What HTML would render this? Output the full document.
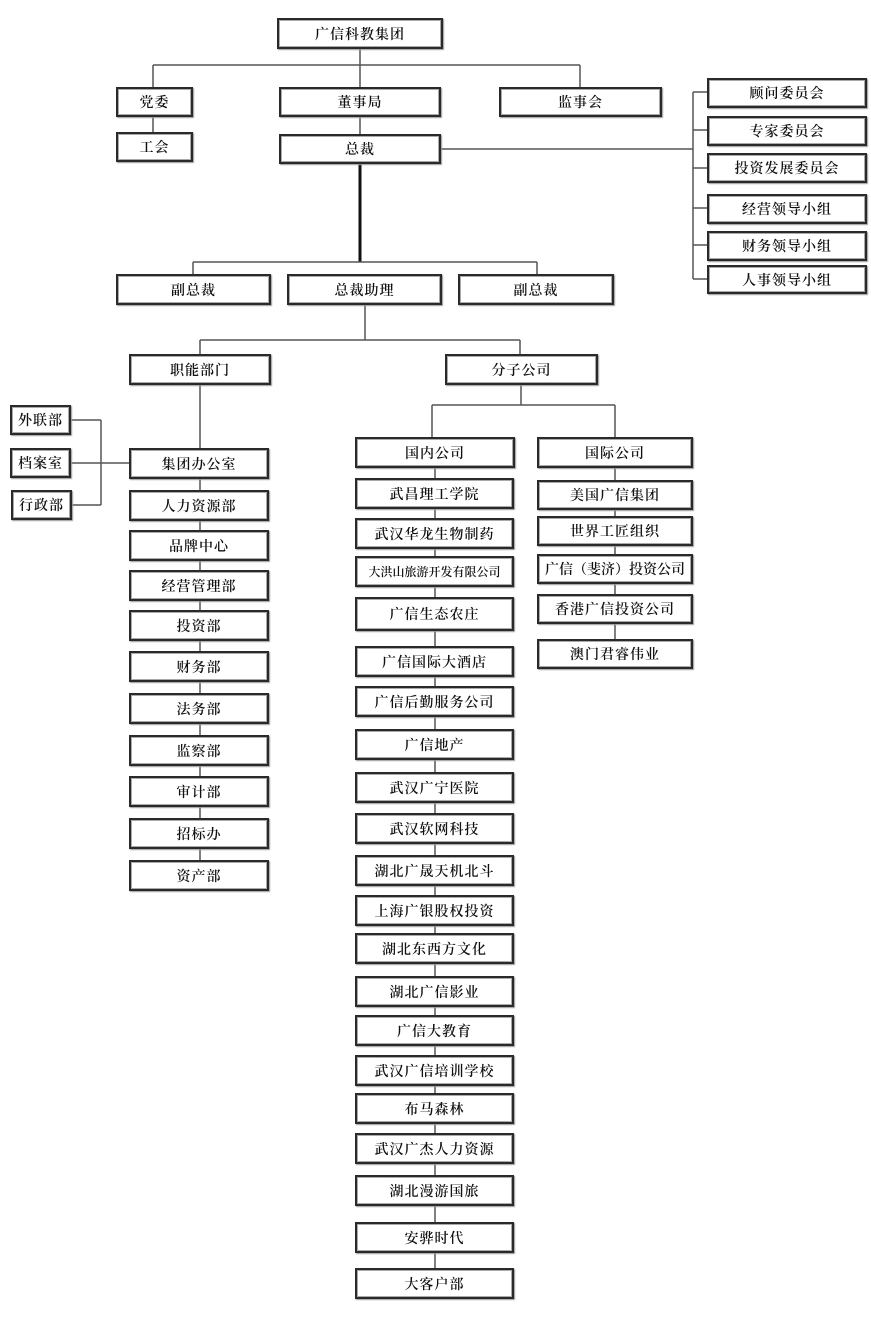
<!DOCTYPE html>
<html><head><meta charset="utf-8"><style>
body{margin:0;background:#fff;width:871px;height:1318px;position:relative;overflow:hidden}
.b{position:absolute;box-sizing:border-box;border:2px solid #2a2a2a;box-shadow:inset 0 0 0 1px #aaa,1px 1px 1px #999;background:#fff;display:flex;align-items:center;justify-content:center;font-family:"Liberation Serif","Noto Serif CJK SC",serif;font-weight:600;font-size:14px;color:#111;letter-spacing:1px;white-space:nowrap}
svg{position:absolute;left:0;top:0}
</style></head><body>
<svg width="871" height="1318" stroke="#555" stroke-width="1.5" fill="none">
<path d="M360 48V87M153 65H580M153 65V87M580 65V87M360 116V134M153 116V132"/>
<path d="M441 149H693M693 92V279M693 92H707M693 130H707M693 168H707M693 208H707M693 245H707M693 279H707"/>
<path d="M360 163V262" stroke="#111" stroke-width="3"/>
<path d="M193 262H537M193 262V274M537 262V274M365 304V340M200 340H520M200 340V354M520 340V354"/>
<path d="M200 384V875M71 420H101M71 463H129M72 505H101M101 420V505"/>
<path d="M521 384V405M432 405H615M432 405V437M615 405V437M435 467V1283M615 467V654"/>
</svg>
<div class="b" style="left:277px;top:18px;width:166px;height:31px">广信科教集团</div>
<div class="b" style="left:116px;top:87px;width:77px;height:30px">党委</div>
<div class="b" style="left:279px;top:87px;width:162px;height:30px">董事局</div>
<div class="b" style="left:499px;top:87px;width:163px;height:30px">监事会</div>
<div class="b" style="left:116px;top:132px;width:77px;height:30px">工会</div>
<div class="b" style="left:279px;top:134px;width:162px;height:30px">总裁</div>
<div class="b" style="left:707px;top:78px;width:160px;height:30px">顾问委员会</div>
<div class="b" style="left:707px;top:116px;width:160px;height:30px">专家委员会</div>
<div class="b" style="left:707px;top:153px;width:160px;height:30px">投资发展委员会</div>
<div class="b" style="left:707px;top:194px;width:160px;height:30px">经营领导小组</div>
<div class="b" style="left:707px;top:231px;width:160px;height:30px">财务领导小组</div>
<div class="b" style="left:707px;top:265px;width:160px;height:29px">人事领导小组</div>
<div class="b" style="left:116px;top:274px;width:155px;height:31px">副总裁</div>
<div class="b" style="left:287px;top:274px;width:155px;height:31px">总裁助理</div>
<div class="b" style="left:458px;top:274px;width:156px;height:31px">副总裁</div>
<div class="b" style="left:129px;top:354px;width:142px;height:31px">职能部门</div>
<div class="b" style="left:445px;top:354px;width:153px;height:31px">分子公司</div>
<div class="b" style="left:10px;top:405px;width:61px;height:30px">外联部</div>
<div class="b" style="left:10px;top:448px;width:61px;height:30px">档案室</div>
<div class="b" style="left:11px;top:490px;width:61px;height:30px">行政部</div>
<div class="b" style="left:129px;top:448px;width:140px;height:31px">集团办公室</div>
<div class="b" style="left:129px;top:490px;width:140px;height:31px">人力资源部</div>
<div class="b" style="left:129px;top:530px;width:140px;height:31px">品牌中心</div>
<div class="b" style="left:129px;top:570px;width:140px;height:31px">经营管理部</div>
<div class="b" style="left:129px;top:610px;width:140px;height:31px">投资部</div>
<div class="b" style="left:129px;top:651px;width:140px;height:31px">财务部</div>
<div class="b" style="left:129px;top:693px;width:140px;height:31px">法务部</div>
<div class="b" style="left:129px;top:735px;width:140px;height:31px">监察部</div>
<div class="b" style="left:129px;top:776px;width:140px;height:31px">审计部</div>
<div class="b" style="left:129px;top:818px;width:140px;height:31px">招标办</div>
<div class="b" style="left:129px;top:860px;width:140px;height:31px">资产部</div>
<div class="b" style="left:355px;top:437px;width:160px;height:31px">国内公司</div>
<div class="b" style="left:537px;top:437px;width:156px;height:31px">国际公司</div>
<div class="b" style="left:355px;top:478px;width:159px;height:31px">武昌理工学院</div>
<div class="b" style="left:355px;top:518px;width:159px;height:31px">武汉华龙生物制药</div>
<div class="b" style="left:355px;top:556px;width:159px;height:31px;font-size:12px;letter-spacing:0">大洪山旅游开发有限公司</div>
<div class="b" style="left:355px;top:597px;width:159px;height:34px">广信生态农庄</div>
<div class="b" style="left:355px;top:646px;width:159px;height:31px">广信国际大酒店</div>
<div class="b" style="left:355px;top:686px;width:159px;height:31px">广信后勤服务公司</div>
<div class="b" style="left:355px;top:729px;width:159px;height:31px">广信地产</div>
<div class="b" style="left:355px;top:772px;width:159px;height:31px">武汉广宁医院</div>
<div class="b" style="left:355px;top:813px;width:159px;height:31px">武汉软网科技</div>
<div class="b" style="left:355px;top:855px;width:159px;height:31px">湖北广晟天机北斗</div>
<div class="b" style="left:355px;top:895px;width:159px;height:31px">上海广银股权投资</div>
<div class="b" style="left:355px;top:933px;width:159px;height:31px">湖北东西方文化</div>
<div class="b" style="left:355px;top:976px;width:159px;height:31px">湖北广信影业</div>
<div class="b" style="left:355px;top:1015px;width:159px;height:31px">广信大教育</div>
<div class="b" style="left:355px;top:1055px;width:159px;height:31px">武汉广信培训学校</div>
<div class="b" style="left:355px;top:1093px;width:159px;height:31px">布马森林</div>
<div class="b" style="left:355px;top:1133px;width:159px;height:31px">武汉广杰人力资源</div>
<div class="b" style="left:355px;top:1175px;width:159px;height:31px">湖北漫游国旅</div>
<div class="b" style="left:355px;top:1222px;width:159px;height:31px">安骅时代</div>
<div class="b" style="left:355px;top:1268px;width:159px;height:31px">大客户部</div>
<div class="b" style="left:537px;top:480px;width:156px;height:30px">美国广信集团</div>
<div class="b" style="left:537px;top:516px;width:156px;height:30px">世界工匠组织</div>
<div class="b" style="left:537px;top:554px;width:156px;height:30px;letter-spacing:0">广信（斐济）投资公司</div>
<div class="b" style="left:537px;top:594px;width:156px;height:30px">香港广信投资公司</div>
<div class="b" style="left:537px;top:639px;width:156px;height:30px">澳门君睿伟业</div>
</body></html>
